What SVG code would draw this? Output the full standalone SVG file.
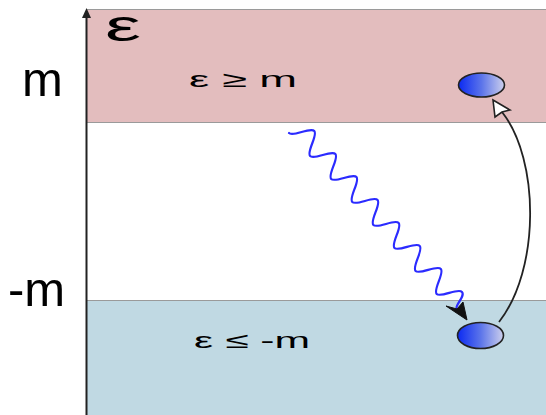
<svg xmlns="http://www.w3.org/2000/svg" width="546" height="415" viewBox="0 0 546 415">
  <style>
    .lbl { font-family: "Liberation Sans", Arial, sans-serif; fill: #000; }
    .band-line { stroke: #9a9a9a; stroke-width: 1; }
    .particle { fill: url(#pgrad); stroke: #222; stroke-width: 1.6; }
    .photon { fill: none; stroke: #2b2bff; stroke-width: 2.2; stroke-linecap: round; stroke-linejoin: round; }
    .transition { fill: none; stroke: #222; stroke-width: 1.8; }
  </style>
  <defs>
    <linearGradient id="pgrad" x1="0" y1="0" x2="1" y2="0">
      <stop offset="0" stop-color="#0b2af2"/>
      <stop offset="0.5" stop-color="#5b74ea"/>
      <stop offset="1" stop-color="#cdd0ec"/>
    </linearGradient>
  </defs>
  <rect width="546" height="415" fill="#fff"/>

  <g id="band-positive">
    <rect x="87" y="9.5" width="459" height="113" fill="#e3bdbe"/>
    <line class="band-line" x1="87" y1="9.5" x2="546" y2="9.5"/>
    <line class="band-line" x1="87" y1="122.5" x2="546" y2="122.5"/>
    <text class="lbl" x="189" y="87" font-size="22" textLength="108" lengthAdjust="spacingAndGlyphs">ε ≥ m</text>
  </g>

  <g id="band-negative">
    <rect x="87" y="300.5" width="459" height="115" fill="#c0d9e3"/>
    <line class="band-line" x1="87" y1="300.5" x2="546" y2="300.5"/>
    <text class="lbl" x="194" y="348" font-size="22" textLength="116" lengthAdjust="spacingAndGlyphs">ε ≤ -m</text>
  </g>

  <g id="axis">
    <line x1="86.5" y1="415" x2="86.5" y2="16" stroke="#222" stroke-width="2"/>
    <polygon points="86.5,8 91,18 82,18" fill="#222"/>
    <text class="lbl" x="105" y="41" font-size="44" textLength="36" lengthAdjust="spacingAndGlyphs">ε</text>
  </g>

  <g id="level-labels">
    <text class="lbl" x="22" y="96" font-size="49">m</text>
    <text class="lbl" x="8" y="306" font-size="49">-m</text>
  </g>

  <g id="particle-upper">
    <ellipse class="particle" cx="481.5" cy="85" rx="23" ry="12"/>
  </g>
  <g id="particle-lower">
    <ellipse class="particle" cx="480.5" cy="335.5" rx="23" ry="13"/>
  </g>

  <g id="connectors">
    <g id="photon">
      <path class="photon" transform="translate(289,133) rotate(47.46)" d="M0,0 c5.68,0 9.92,-20 15.6,-20 s9.92,20 15.6,20 s9.92,-20 15.6,-20 s9.92,20 15.6,20 s9.92,-20 15.6,-20 s9.92,20 15.6,20 s9.92,-20 15.6,-20 s9.92,20 15.6,20 s9.92,-20 15.6,-20 s9.92,20 15.6,20 s9.92,-20 15.6,-20 s9.92,20 15.6,20 s9.92,-20 15.6,-20 s9.92,20 15.6,20 s9.92,-20 15.6,-20 s5,15.3 9.1,15.3"/>
      <polygon points="467,320 446,306 457,309 463,302" fill="#111" stroke="#111" stroke-width="1" stroke-linejoin="miter"/>
    </g>
    <g id="excitation">
      <path class="transition" d="M499,322 C540,270 540,160 502,112"/>
      <polygon points="493,100 510,110 502,112 495,117" fill="#fff" stroke="#222" stroke-width="1.6" stroke-linejoin="miter"/>
    </g>
  </g>
</svg>
